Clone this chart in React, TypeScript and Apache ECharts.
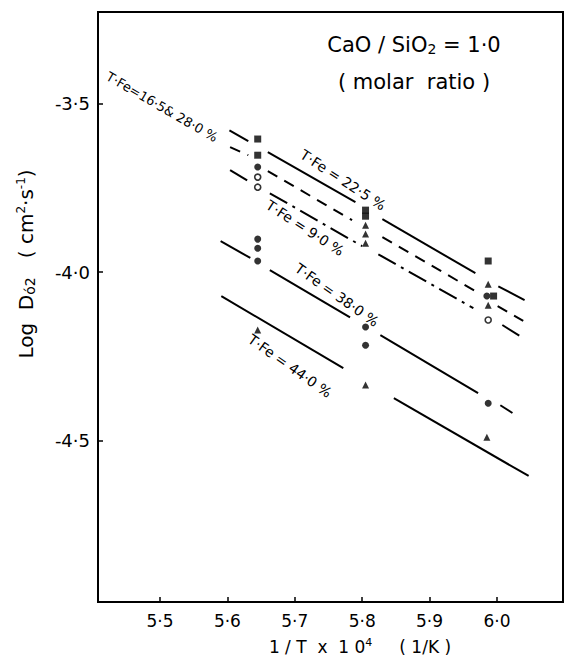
import React, { useEffect, useRef } from "react";
import * as echarts from "echarts";

// Axis ticks
const xTickValues = [5.5, 5.6, 5.7, 5.8, 5.9, 6.0];
const yTickValues = [-3.5, -4.0, -4.5];

// Measured points (1/T x 10^4, log D)
const squarePts = [
  [5.645, -3.605], [5.645, -3.653],
  [5.805, -3.816], [5.805, -3.834],
  [5.987, -3.967], [5.995, -4.071],
];
const filledCirclePts = [
  [5.645, -3.688], [5.645, -3.902], [5.645, -3.929], [5.645, -3.967],
  [5.805, -4.163], [5.805, -4.217],
  [5.985, -4.071], [5.987, -4.389],
];
const openCirclePts = [
  [5.645, -3.718], [5.645, -3.748], [5.987, -4.142],
];
const trianglePts = [
  [5.645, -4.172],
  [5.805, -3.861], [5.805, -3.887], [5.805, -3.914], [5.805, -4.335],
  [5.987, -4.036], [5.987, -4.098], [5.985, -4.49],
];

// Regression lines, drawn as visible segments (start, end)
const fe225Segments = [
  [[5.603, -3.579], [5.631, -3.611]],
  [[5.660, -3.644], [5.790, -3.792]],
  [[5.830, -3.843], [5.968, -4.003]],
  [[6.002, -4.042], [6.041, -4.083]],
];
const fe165280Segments = [
  [[5.604, -3.629], [5.631, -3.653]],
  [[5.660, -3.700], [5.785, -3.846]],
  [[5.830, -3.896], [5.973, -4.062]],
  [[6.001, -4.101], [6.039, -4.145]],
];
const fe90Segments = [
  [[5.604, -3.697], [5.631, -3.730]],
  [[5.663, -3.766], [5.800, -3.923]],
  [[5.824, -3.947], [5.965, -4.107]],
  [[6.008, -4.157], [6.039, -4.196]],
];
const fe380Segments = [
  [[5.590, -3.908], [5.634, -3.958]],
  [[5.663, -3.994], [5.782, -4.134]],
  [[5.827, -4.187], [5.972, -4.359]],
  [[6.005, -4.395], [6.023, -4.418]],
];
const fe440Segments = [
  [[5.591, -4.071], [5.772, -4.285]],
  [[5.847, -4.374], [6.047, -4.605]],
];

const FONT = "DejaVu Sans";

const fmt = (v: number) => v.toFixed(1).replace(".", "·");

export default function App() {
  const ref = useRef<HTMLDivElement>(null);

  useEffect(() => {
    if (!ref.current) return;
    const chart = echarts.init(ref.current, null, { renderer: "svg" });

    const segSeries = (segs: number[][][], type: any) =>
      segs.map((seg) => ({
        type: "line",
        data: seg,
        symbol: "none",
        silent: true,
        z: 2,
        lineStyle: { color: "#000", width: 2, type },
      }));

    const labelText = (
      text: string,
      x: number,
      y: number,
      deg: number,
      size: number
    ) => ({
      type: "text",
      x,
      y,
      rotation: (-deg * Math.PI) / 180,
      z: 10,
      style: {
        text,
        font: `${size}px "${FONT}"`,
        fill: "#000",
        align: "center",
        verticalAlign: "middle",
      },
    });

    chart.setOption({
      animation: false,
      backgroundColor: "#fff",
      grid: {
        left: 98,
        top: 12,
        right: 10,
        bottom: 61,
        show: true,
        borderColor: "#000",
        borderWidth: 2,
        backgroundColor: "transparent",
      },
      xAxis: {
        type: "value",
        min: 5.408,
        max: 6.098,
        axisLine: { show: false },
        splitLine: { show: false },
        axisTick: {
          show: true,
          inside: true,
          length: 5,
          customValues: xTickValues,
          lineStyle: { color: "#000", width: 1.5 },
        },
        axisLabel: {
          customValues: xTickValues,
          formatter: fmt,
          color: "#000",
          fontFamily: FONT,
          fontSize: 17,
          margin: 10,
        },
      },
      yAxis: {
        type: "value",
        min: -4.979,
        max: -3.228,
        axisLine: { show: false },
        splitLine: { show: false },
        axisTick: {
          show: true,
          inside: true,
          length: 5,
          customValues: yTickValues,
          lineStyle: { color: "#000", width: 1.5 },
        },
        axisLabel: {
          customValues: yTickValues,
          formatter: fmt,
          color: "#000",
          fontFamily: FONT,
          fontSize: 18,
          margin: 8,
        },
      },
      series: [
        ...segSeries(fe225Segments, "solid"),
        ...segSeries(fe165280Segments, [11, 8]),
        ...segSeries(fe90Segments, [20, 6, 3, 6]),
        ...segSeries(fe380Segments, "solid"),
        ...segSeries(fe440Segments, "solid"),
        {
          type: "scatter",
          data: squarePts,
          symbol: "rect",
          symbolSize: 7,
          itemStyle: { color: "#000" },
          z: 5,
        },
        {
          type: "scatter",
          data: filledCirclePts,
          symbol: "circle",
          symbolSize: 7,
          itemStyle: { color: "#000" },
          z: 5,
        },
        {
          type: "scatter",
          data: openCirclePts,
          symbol: "circle",
          symbolSize: 6,
          itemStyle: { color: "#fff", borderColor: "#000", borderWidth: 1.6 },
          z: 5,
        },
        {
          type: "scatter",
          data: trianglePts,
          symbol: "triangle",
          symbolSize: 7,
          itemStyle: { color: "#000" },
          z: 5,
        },
      ],
      graphic: [
        {
          type: "text",
          x: 414,
          y: 45,
          z: 10,
          style: {
            text: "CaO / SiO{sub|2} = 1·0",
            font: `21px "${FONT}"`,
            fill: "#000",
            align: "center",
            verticalAlign: "middle",
            rich: {
              sub: { font: `14px "${FONT}"`, fill: "#000", padding: [8, 0, 0, 0] },
            },
          },
        },
        {
          type: "text",
          x: 414,
          y: 82,
          z: 10,
          style: {
            text: "( molar  ratio )",
            font: `21px "${FONT}"`,
            fill: "#000",
            align: "center",
            verticalAlign: "middle",
          },
        },
        labelText("T·Fe=16·5& 28·0 %", 162, 107, 30, 13),
        labelText("T·Fe = 22·5 %", 343, 180, 33, 14),
        labelText("T·Fe = 9·0 %", 305, 228, 33, 14),
        labelText("T·Fe = 38·0 %", 337, 295, 35, 14),
        labelText("T·Fe = 44·0 %", 290, 366, 35, 14),
        {
          type: "text",
          x: 360,
          y: 647,
          z: 10,
          style: {
            text: "1 / T  x  1 0{sup|4}     ( 1/K )",
            font: `17px "${FONT}"`,
            fill: "#000",
            align: "center",
            verticalAlign: "middle",
            rich: {
              sup: { font: `11px "${FONT}"`, fill: "#000", padding: [0, 0, 9, 0] },
            },
          },
        },
        {
          type: "text",
          x: 26,
          y: 264,
          rotation: Math.PI / 2,
          z: 10,
          style: {
            text: "Log  D{sub|ó2}   ( cm{sup|2}·s{sup|-1})",
            font: `20px "${FONT}"`,
            fill: "#000",
            align: "center",
            verticalAlign: "middle",
            rich: {
              sub: { font: `14px "${FONT}"`, fill: "#000", padding: [8, 0, 0, 0] },
              sup: { font: `12px "${FONT}"`, fill: "#000", padding: [0, 0, 10, 0] },
            },
          },
        },
      ],
    });

    return () => chart.dispose();
  }, []);

  return (
    <div
      ref={ref}
      style={{ position: "absolute", left: 0, top: 0, width: 573, height: 663 }}
    />
  );
}
